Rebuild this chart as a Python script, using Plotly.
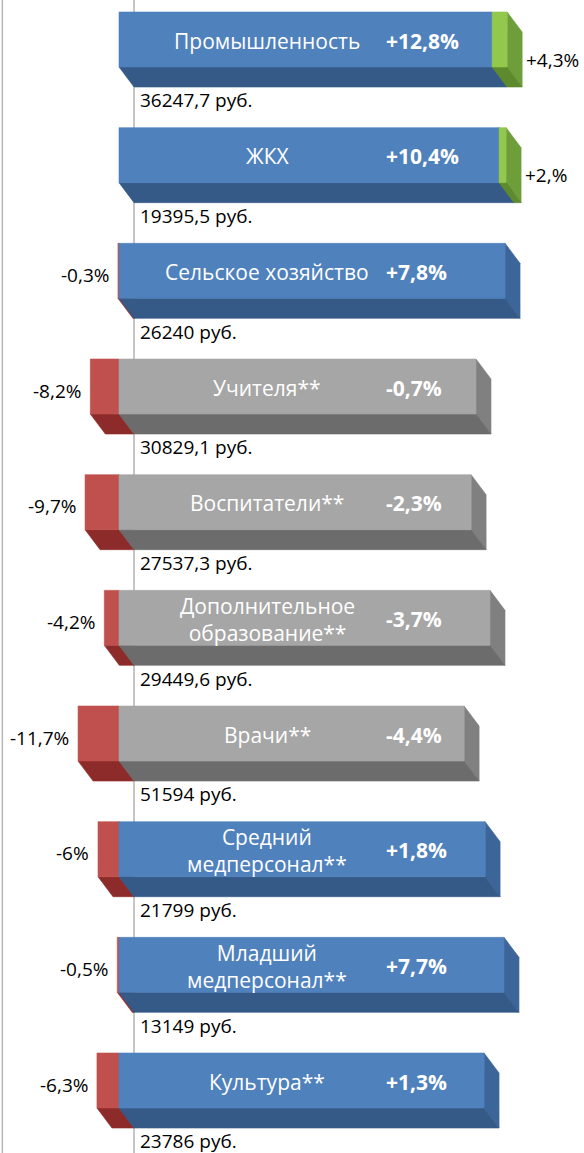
import plotly.graph_objects as go

# ---------------- data ----------------
categories = ["Промышленность", "ЖКХ", "Сельское хозяйство", "Учителя**", "Воспитатели**",
              "Дополнительное<br>образование**", "Врачи**", "Средний<br>медперсонал**",
              "Младший<br>медперсонал**", "Культура**"]
main_len = [106.6, 108.6, 110.3, 102.0, 100.6, 106.0, 98.6, 104.6, 110.0, 104.3]
main_growth = ["+12,8%", "+10,4%", "+7,8%", "-0,7%", "-2,3%", "-3,7%", "-4,4%", "+1,8%", "+7,7%", "+1,3%"]
main_kind = ["blue", "blue", "blue", "gray", "gray", "gray", "gray", "blue", "blue", "blue"]
neg_change = [0, 0, -0.3, -8.2, -9.7, -4.2, -11.7, -6.0, -0.5, -6.3]
neg_labels = ["", "", "-0,3%", "-8,2%", "-9,7%", "-4,2%", "-11,7%", "-6%", "-0,5%", "-6,3%"]
pos_change = [4.3, 2.0, 0, 0, 0, 0, 0, 0, 0, 0]
pos_labels = ["+4,3%", "+2,%", "", "", "", "", "", "", "", ""]
salaries = ["36247,7 руб.", "19395,5 руб.", "26240 руб.", "30829,1 руб.", "27537,3 руб.",
            "29449,6 руб.", "51594 руб.", "21799 руб.", "13149 руб.", "23786 руб."]

# ---------------- geometry / style ----------------
W_PX, H_PX = 584, 1153
K = 3.5            # px per unit on x
ROW = 115.67       # px per row
ZERO_PX = 134      # pixel of x = 0
FIRST_CENTER = 39.5
DX = 15 / K
DY = 20 / ROW
BW = 55 / ROW

colors = {
    "blue": ("#4F81BD", "#365A88", "#3C659A"),
    "gray": ("#A6A6A6", "#6C6C6C", "#808080"),
    "red": ("#C0504D", "#8C2B29", "#A03D3A"),
    "green": ("#92C84E", "#5E8A2E", "#6E9E3A"),
}

fig = go.Figure()


def poly(xs, ys, color):
    fig.add_trace(go.Scatter(x=xs + [xs[0]], y=ys + [ys[0]], mode="lines", fill="toself",
                             fillcolor=color, line=dict(width=0.6, color=color),
                             hoverinfo="skip", showlegend=False))


for i in range(len(categories)):
    segs = []
    if neg_change[i] < 0:
        segs.append((neg_change[i], 0, "red"))
    segs.append((0, main_len[i], main_kind[i]))
    if pos_change[i] > 0:
        segs.append((main_len[i], main_len[i] + pos_change[i], "green"))
    top, bot = i - BW / 2, i + BW / 2
    for a, b, c in segs:      # right side faces
        poly([b - DX, b, b, b - DX], [top, top + DY, bot + DY, bot], colors[c][2])
    for a, b, c in segs:      # bottom faces
        poly([a - DX, b - DX, b, a], [bot, bot, bot + DY, bot + DY], colors[c][1])
    for a, b, c in segs:      # front faces
        poly([a - DX, b - DX, b - DX, a - DX], [top, top, bot, bot], colors[c][0])

ann = []
FONT = "Open Sans"
for i in range(len(categories)):
    ann.append(dict(x=(267 - ZERO_PX) / K, y=i + 0.01, text=categories[i], xanchor="center",
                    font=dict(family=FONT, size=21, color="white")))
    ann.append(dict(x=(384 - ZERO_PX) / K, y=i + 0.01, text="<b>" + main_growth[i] + "</b>",
                    xanchor="left", font=dict(family=FONT, size=21, color="white")))
    ann.append(dict(x=4 / K, y=i + 0.527, text=salaries[i], xanchor="left",
                    font=dict(family=FONT, size=19, color="black")))
    if neg_labels[i]:
        ann.append(dict(x=neg_change[i] - DX - 7 / K, y=i + 0.035, text=neg_labels[i],
                        xanchor="right", font=dict(family=FONT, size=19, color="black")))
    if pos_labels[i]:
        ann.append(dict(x=main_len[i] + pos_change[i] + 2 / K, y=i + DY, text=pos_labels[i],
                        xanchor="left", font=dict(family=FONT, size=19, color="black")))
for a in ann:
    a.update(xref="x", yref="y", showarrow=False, yanchor="middle")

x_range = [-ZERO_PX / K, (W_PX - ZERO_PX) / K]
y_range = [(H_PX - FIRST_CENTER) / ROW, -FIRST_CENTER / ROW]

fig.update_layout(
    width=W_PX, height=H_PX, margin=dict(l=0, r=0, t=0, b=0),
    paper_bgcolor="white", plot_bgcolor="white",
    xaxis=dict(range=x_range, visible=False, fixedrange=True),
    yaxis=dict(range=y_range, visible=False, fixedrange=True),
    annotations=ann,
    shapes=[
        dict(type="line", xref="x", yref="paper", x0=0, x1=0, y0=0, y1=1,
             line=dict(color="#A0A0A0", width=1.2), layer="below"),
        dict(type="line", xref="paper", yref="paper", x0=0.004, x1=0.004, y0=0, y1=1,
             line=dict(color="#B8B8B8", width=1.5), layer="below"),
    ],
)
fig.write_html("out.html", config={"displayModeBar": False},
               post_script="document.body.style.margin='0';")
